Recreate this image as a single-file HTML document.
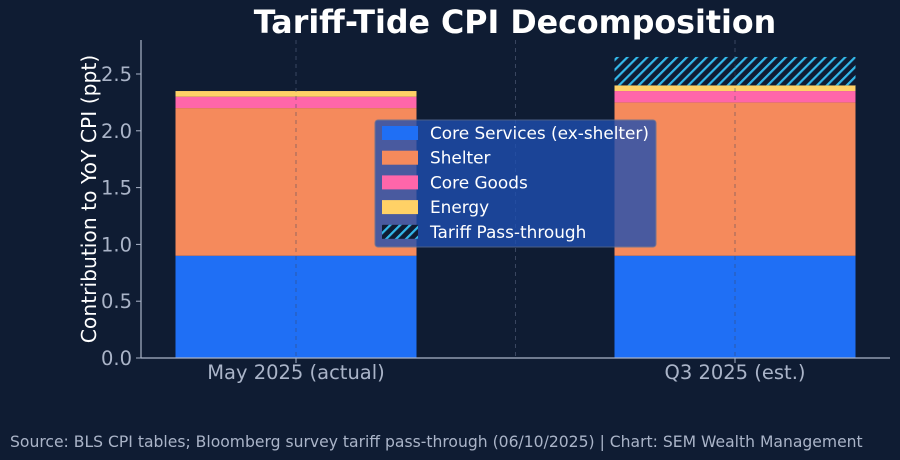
<!DOCTYPE html>
<html><head><meta charset="utf-8"><style>
body{margin:0;background:#0f1c33;}
svg{display:block;font-family:"DejaVu Sans","Liberation Sans",sans-serif;}
</style></head><body>
<svg id="c" width="900" height="460">
<defs>
<pattern id="hatch" patternUnits="userSpaceOnUse" width="7" height="7" patternTransform="rotate(45)">
<rect width="7" height="7" fill="#0f1c33"/><rect width="2.2" height="7" fill="#33b8ea"/>
</pattern>
</defs>
<rect width="900" height="460" fill="#0f1c33"/>
<text x="515" y="33" text-anchor="middle" font-size="31.7" font-weight="bold" fill="#ffffff">Tariff-Tide CPI Decomposition</text>
<g id="grid"></g>
<g id="bars"></g>
<g id="axes"></g>
<text transform="translate(96,199) rotate(-90)" text-anchor="middle" font-size="20.3" fill="#ffffff">Contribution to YoY CPI (ppt)</text>
<g id="legend"></g>
<text x="10" y="447" font-size="15.6" fill="#aab4c8">Source: BLS CPI tables; Bloomberg survey tariff pass-through (06/10/2025) | Chart: SEM Wealth Management</text>
</svg>
<script>
const categories=["May 2025 (actual)","Q3 2025 (est.)"];
const seriesNames=["Core Services (ex-shelter)","Shelter","Core Goods","Energy","Tariff Pass-through"];
const coreServices=[0.9,0.9];
const shelter=[1.3,1.35];
const coreGoods=[0.1,0.1];
const energy=[0.05,0.05];
const tariff=[0,0.25];
const yTicks=[0,0.5,1.0,1.5,2.0,2.5];
const colors=["#1f6ff5","#f58a5c","#ff66aa","#ffd166","url(#hatch)"];
const NS="http://www.w3.org/2000/svg";
const y=v=>358-v*113.6;
const x=i=>296+i*439;
const bw=241;
function mk(t,a,p){const e=document.createElementNS(NS,t);for(const k in a)e.setAttribute(k,a[k]);p.appendChild(e);return e;}
const grid=document.getElementById('grid'),bars=document.getElementById('bars'),axes=document.getElementById('axes'),leg=document.getElementById('legend');
[0,0.5,1].forEach(i=>{const l=mk('line',{x1:x(i),x2:x(i),y1:40,y2:358,stroke:"#3a4660","stroke-dasharray":"4,4","stroke-width":1},grid);

});
const all=[coreServices,shelter,coreGoods,energy,tariff];
categories.forEach((c,i)=>{let base=0;all.forEach((s,k)=>{const v=s[i];if(v<=0)return;
const r=mk('rect',{x:x(i)-bw/2,y:y(base+v),width:bw,height:y(base)-y(base+v),fill:colors[k]},bars);


base+=v;});
const t=mk('text',{x:x(i),y:379,"text-anchor":"middle","font-size":19.5,fill:"#aab4c8"},axes);t.textContent=c;


mk('line',{x1:x(i),x2:x(i),y1:358,y2:363,stroke:"#aab4c8"},axes);});
[0,0.5,1].forEach(i=>{const l=mk('line',{x1:x(i),x2:x(i),y1:40,y2:358,stroke:"#3a4660","stroke-dasharray":"4,4","stroke-width":1,opacity:0.5},bars);

});
mk('line',{x1:141,x2:141,y1:40,y2:358,stroke:"#aab4c8","stroke-width":1.2},axes);
mk('line',{x1:141,x2:890,y1:358,y2:358,stroke:"#aab4c8","stroke-width":1.2},axes);
yTicks.forEach(v=>{mk('line',{x1:136,x2:141,y1:y(v),y2:y(v),stroke:"#aab4c8"},axes);
const t=mk('text',{x:132,y:y(v)+7,"text-anchor":"end","font-size":19.5,fill:"#aab4c8"},axes);t.textContent=v.toFixed(1);

});
mk('rect',{x:375,y:120,width:281,height:127,rx:3,fill:"#1f4fb0",opacity:0.8,stroke:"#5a6f9a"},leg);
seriesNames.forEach((n,k)=>{const yy=126+k*24.7;
const r=mk('rect',{x:382,y:yy,width:36,height:14,fill:colors[k]},leg);


const t=mk('text',{x:430,y:yy+13,"font-size":16.9,fill:"#ffffff"},leg);t.textContent=n;

});
</script>
</body></html>
